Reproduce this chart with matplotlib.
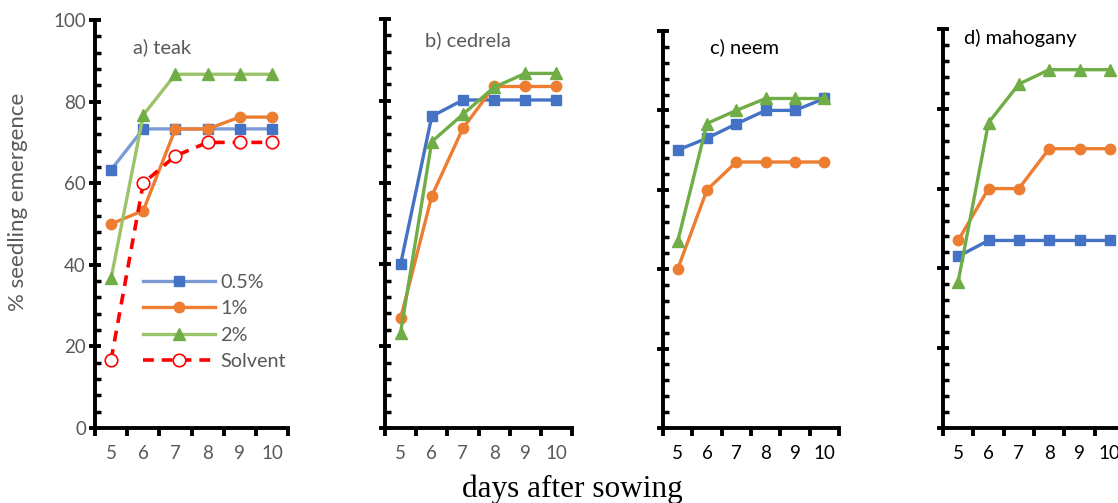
import matplotlib
matplotlib.use("Agg")
import matplotlib.pyplot as plt
from matplotlib.ticker import MultipleLocator, FixedLocator

plt.rcParams['font.family'] = ['Lato', 'DejaVu Sans']

days = [5, 6, 7, 8, 9, 10]
series_names = ['0.5%', '1%', '2%', 'Solvent']

# % seedling emergence per panel
teak_05 = [63.3, 73.3, 73.3, 73.3, 73.3, 73.3]
teak_1 = [50.0, 53.3, 73.3, 73.3, 76.2, 76.2]
teak_2 = [36.7, 76.7, 86.7, 86.7, 86.7, 86.7]
teak_solvent = [16.7, 60.0, 66.7, 70.0, 70.0, 70.0]

cedrela_05 = [40.0, 76.2, 80.2, 80.2, 80.2, 80.2]
cedrela_1 = [26.8, 56.7, 73.3, 83.5, 83.5, 83.5]
cedrela_2 = [23.3, 70.0, 76.7, 83.3, 86.7, 86.7]

neem_05 = [70.0, 73.0, 76.6, 80.0, 80.0, 83.0]
neem_1 = [40.0, 60.0, 67.0, 67.0, 67.0, 67.0]
neem_2 = [47.0, 76.7, 80.0, 83.0, 83.0, 83.0]

mahog_05 = [43.0, 47.0, 47.0, 47.0, 47.0, 47.0]
mahog_1 = [47.0, 60.0, 60.0, 70.0, 70.0, 70.0]
mahog_2 = [36.7, 76.5, 86.2, 89.8, 89.8, 89.8]

panel_titles = ['a) teak', 'b) cedrela', 'c) neem', 'd) mahogany']

BLUE = '#4472C4'
ORANGE = '#ED7D31'
GREEN = '#70AD47'
GRAY = '#595959'

W, H = 1118, 503
fig = plt.figure(figsize=(W / 100, H / 100), dpi=100)

# panel boxes in pixels: left, right, bottom(y=0), top(y=100)
boxes = [(95, 288, 428, 20), (385, 572, 428, 19), (663, 839, 428, 31), (943, 1125, 428, 29)]
# title positions in pixels (left x, centre y)
title_px = [(133, 47), (425, 40), (710, 47), (964, 38)]
title_col = [GRAY, GRAY, 'black', 'black']
tick_col = [GRAY, GRAY, 'black', 'black']

data = [
    (teak_05, teak_1, teak_2, teak_solvent),
    (cedrela_05, cedrela_1, cedrela_2, None),
    (neem_05, neem_1, neem_2, None),
    (mahog_05, mahog_1, mahog_2, None),
]

x = list(range(len(days)))
axes = []
for i, (l, r, b, t) in enumerate(boxes):
    ax = fig.add_axes([l / W, 1 - b / H, (r - l) / W, (b - t) / H])
    axes.append(ax)
    s05, s1, s2, ssol = data[i]
    lc_blue = '#7C9BD6' if i == 0 else BLUE
    lc_green = '#9BC36A' if i == 0 else GREEN
    ax.plot(x, s05, color=lc_blue, lw=2.4, marker='s', ms=7.5, mfc=BLUE, mec=BLUE, label=series_names[0], zorder=3)
    ax.plot(x, s1, color=ORANGE, lw=2.4, marker='o', ms=7.5, mfc=ORANGE, mec=ORANGE, label=series_names[1], zorder=3)
    ax.plot(x, s2, color=lc_green, lw=2.4, marker='^', ms=8, mfc=GREEN, mec=GREEN, label=series_names[2], zorder=3)
    if ssol is not None:
        ax.plot(x, ssol, color='red', lw=2.6, ls=(0, (3, 2.2)), marker='o', ms=9, mfc='white', mec='red',
                mew=1.2, label=series_names[3], zorder=4)

    ax.set_xlim(-0.5, len(days) - 0.5)
    ax.set_ylim(0, 100)
    for s in ['top', 'right']:
        ax.spines[s].set_visible(False)
    for s in ['left', 'bottom']:
        ax.spines[s].set_linewidth(2.8)
        ax.spines[s].set_capstyle('projecting')

    # category axis: ticks between categories, labels in the middle
    ax.xaxis.set_major_locator(FixedLocator([k - 0.5 for k in range(len(days) + 1)]))
    ax.xaxis.set_minor_locator(FixedLocator(x))
    ax.set_xticklabels([], minor=False)
    ax.set_xticklabels([str(d) for d in days], minor=True)
    ax.tick_params(axis='x', which='major', direction='out', length=6, width=2.8)
    ax.tick_params(axis='x', which='minor', length=0, pad=12, labelsize=13.5, labelcolor=tick_col[i])

    ax.yaxis.set_major_locator(MultipleLocator(20))
    ax.yaxis.set_minor_locator(MultipleLocator(4))
    ax.tick_params(axis='y', which='major', direction='inout', length=9, width=2.8,
                   labelsize=13.5, labelcolor=GRAY, pad=2)
    ax.tick_params(axis='y', which='minor', direction='in', length=4, width=2.5)
    if i > 0:
        ax.set_yticklabels([])
    fig.text(title_px[i][0] / W, 1 - title_px[i][1] / H, panel_titles[i],
             fontsize=14.5, color=title_col[i], va='center', ha='left')

fig.text(18 / W, 1 - 202 / H, '% seedling emergence', rotation=90, fontsize=16,
         color=GRAY, ha='center', va='center')

leg = axes[0].legend(loc='center left', bbox_to_anchor=((143 - 95) / 193, 1 - (322 - 20) / 408),
                     frameon=False, fontsize=14.3, handlelength=3.6, labelspacing=0.48,
                     handletextpad=0.3, borderaxespad=0, borderpad=0)
for txt in leg.get_texts():
    txt.set_color(GRAY)

fig.text(572 / W, (503 - 497) / H, 'days after sowing', family=['Liberation Serif', 'DejaVu Serif'],
         fontsize=22.5, ha='center', va='baseline')

fig.savefig('out.png', dpi=100)
